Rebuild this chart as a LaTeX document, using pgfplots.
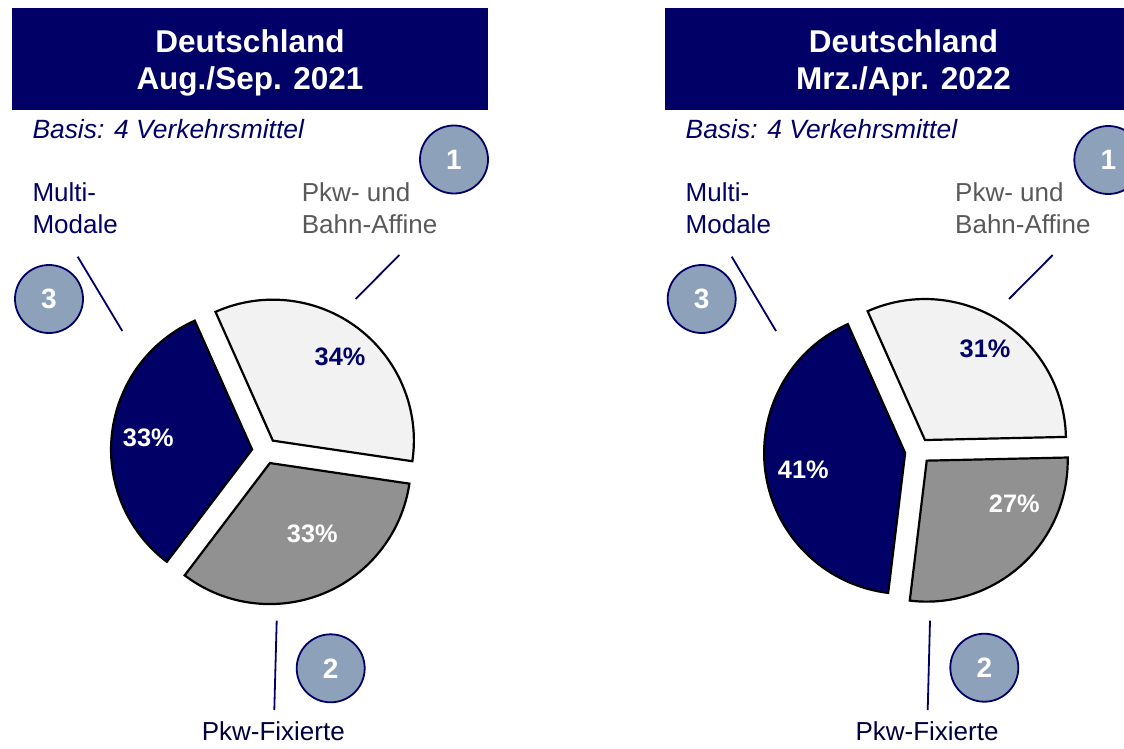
\documentclass[border=0pt]{standalone}
\usepackage{pgfplots}
\pgfplotsset{compat=1.18}
\usepackage{pgfplotstable}
\usetikzlibrary{calc}
\usepackage{fontspec}
\setmainfont{Liberation Sans}
\definecolor{navy}{HTML}{000066}
\definecolor{lightgr}{HTML}{F2F2F2}
\definecolor{midgr}{HTML}{919191}
\definecolor{badge}{HTML}{8EA1BB}
\definecolor{labgr}{HTML}{595959}

% shares of the three groups, per survey wave
\pgfplotstableread{
wave light navy grey
0    34    33   33
1    31    41   27
}\piedata

\pgfplotstablegetelem{0}{light}\of\piedata \let\vLl\pgfplotsretval
\pgfplotstablegetelem{0}{navy}\of\piedata  \let\vLn\pgfplotsretval
\pgfplotstablegetelem{0}{grey}\of\piedata  \let\vLg\pgfplotsretval
\pgfplotstablegetelem{1}{light}\of\piedata \let\vRl\pgfplotsretval
\pgfplotstablegetelem{1}{navy}\of\piedata  \let\vRn\pgfplotsretval
\pgfplotstablegetelem{1}{grey}\of\piedata  \let\vRg\pgfplotsretval

\pgfmathsetmacro\TL{\vLl+\vLn+\vLg}
\pgfmathsetmacro\LlS{114-360*\vLl/\TL}
\pgfmathsetmacro\LnE{114+360*\vLn/\TL}
\pgfmathsetmacro\LgE{\LlS+360}
\pgfmathsetmacro\TR{\vRl+\vRn+\vRg}
\pgfmathsetmacro\RlS{114-360*\vRl/\TR}
\pgfmathsetmacro\RnE{114+360*\vRn/\TR}
\pgfmathsetmacro\RgE{\RlS+360}

% #1 cx, #2 cy, #3 start, #4 end, #5 fill
\newcommand\slice[5]{%
  \filldraw[fill=#5, draw=black, line width=2.2pt, line join=miter]
    ($(axis cs:#1,#2)+({(#3+#4)/2}:13pt)$) -- ++(#3:141pt)
    arc[start angle=#3, end angle=#4, radius=141pt] -- cycle;
}
\newcommand\badge[3]{%
  \filldraw[fill=badge, draw=navy, line width=1.8pt] (axis cs:#1,#2) circle[radius=34pt];
  \node[white, font=\bfseries\fontsize{28}{30}\selectfont, inner sep=0pt] at (axis cs:#1,#2) {#3};
}
\newcommand\pct[4]{%
  \node[#4, font=\bfseries\fontsize{25.3}{28}\selectfont, inner sep=0pt] at (axis cs:#1,#2) {#3\%};
}

\begin{document}
\begin{tikzpicture}
\path[use as bounding box] (0,0) rectangle (1124pt,748pt);
\clip (0,0) rectangle (1124pt,748pt);
\begin{axis}[x=1pt, y=1pt, xmin=0, xmax=1124, ymin=0, ymax=748,
  y dir=reverse, hide axis, clip=false, at={(0,0)}, anchor=south west]

% ---------------- left panel ----------------
\fill[navy] (axis cs:12,8) rectangle (axis cs:488,110);
\node[white, anchor=base, inner sep=0pt, font=\bfseries\fontsize{31.5}{36}\selectfont] at (axis cs:250,52.7) {Deutschland};
\node[white, anchor=base, inner sep=0pt, font=\bfseries\fontsize{31.5}{36}\selectfont] at (axis cs:250,89.3) {Aug./Sep. 2021};
\node[navy, anchor=base west, inner sep=0pt, font=\itshape\fontsize{26.4}{30}\selectfont] at (axis cs:32.3,138.5) {Basis: 4 Verkehrsmittel};
\node[navy, anchor=base west, inner sep=0pt, font=\fontsize{26}{30}\selectfont] at (axis cs:32.3,201.7) {Multi-};
\node[navy, anchor=base west, inner sep=0pt, font=\fontsize{26}{30}\selectfont] at (axis cs:32.3,233.3) {Modale};
\node[labgr, anchor=base west, inner sep=0pt, font=\fontsize{26}{30}\selectfont] at (axis cs:301.7,201.7) {Pkw- und};
\node[labgr, anchor=base west, inner sep=0pt, font=\fontsize{26}{30}\selectfont] at (axis cs:301.7,233.3) {Bahn-Affine};
\node[navy!60!black, anchor=base, inner sep=0pt, font=\fontsize{26}{30}\selectfont] at (axis cs:273.3,740) {Pkw-Fixierte};
\draw[navy, line width=1.8pt] (axis cs:77.7,256.7) -- (axis cs:122.3,331);
\draw[navy, line width=1.8pt] (axis cs:399.3,255) -- (axis cs:355.7,299);
\draw[navy, line width=1.8pt] (axis cs:276.7,620.7) -- (axis cs:274.3,710);
\slice{265}{451}{\LlS}{114}{lightgr}
\slice{265}{451}{114}{\LnE}{navy}
\slice{265}{451}{\LnE}{\LgE}{midgr}
\pct{340}{356.7}{\vLl}{navy}
\pct{148.3}{437.3}{\vLn}{white}
\pct{312.3}{534}{\vLg}{white}
\badge{454}{159.5}{1}
\badge{49}{299}{3}
\badge{330.7}{668.3}{2}

% ---------------- right panel ----------------
\fill[navy] (axis cs:665,8) rectangle (axis cs:1141,110);
\node[white, anchor=base, inner sep=0pt, font=\bfseries\fontsize{31.5}{36}\selectfont] at (axis cs:903.5,52.7) {Deutschland};
\node[white, anchor=base, inner sep=0pt, font=\bfseries\fontsize{31.5}{36}\selectfont] at (axis cs:903.5,89.3) {Mrz./Apr. 2022};
\node[navy, anchor=base west, inner sep=0pt, font=\itshape\fontsize{26.4}{30}\selectfont] at (axis cs:685.5,138.5) {Basis: 4 Verkehrsmittel};
\node[navy, anchor=base west, inner sep=0pt, font=\fontsize{26}{30}\selectfont] at (axis cs:685.5,201.7) {Multi-};
\node[navy, anchor=base west, inner sep=0pt, font=\fontsize{26}{30}\selectfont] at (axis cs:685.5,233.3) {Modale};
\node[labgr, anchor=base west, inner sep=0pt, font=\fontsize{26}{30}\selectfont] at (axis cs:955,201.7) {Pkw- und};
\node[labgr, anchor=base west, inner sep=0pt, font=\fontsize{26}{30}\selectfont] at (axis cs:955,233.3) {Bahn-Affine};
\node[navy!60!black, anchor=base, inner sep=0pt, font=\fontsize{26}{30}\selectfont] at (axis cs:927,740) {Pkw-Fixierte};
\draw[navy, line width=1.8pt] (axis cs:731.7,256.7) -- (axis cs:776,331);
\draw[navy, line width=1.8pt] (axis cs:1052.7,255) -- (axis cs:1009,299);
\draw[navy, line width=1.8pt] (axis cs:930,620.7) -- (axis cs:927.7,710);
\slice{918}{451}{\RlS}{114}{lightgr}
\slice{918}{451}{114}{\RnE}{navy}
\slice{918}{451}{\RnE}{\RgE}{midgr}
\pct{985}{348.3}{\vRl}{navy}
\pct{803.3}{470}{\vRn}{white}
\pct{1014.3}{503.3}{\vRg}{white}
\badge{1108.3}{160}{1}
\badge{701.7}{299}{3}
\badge{984.3}{667.7}{2}
\end{axis}
\end{tikzpicture}
\end{document}
